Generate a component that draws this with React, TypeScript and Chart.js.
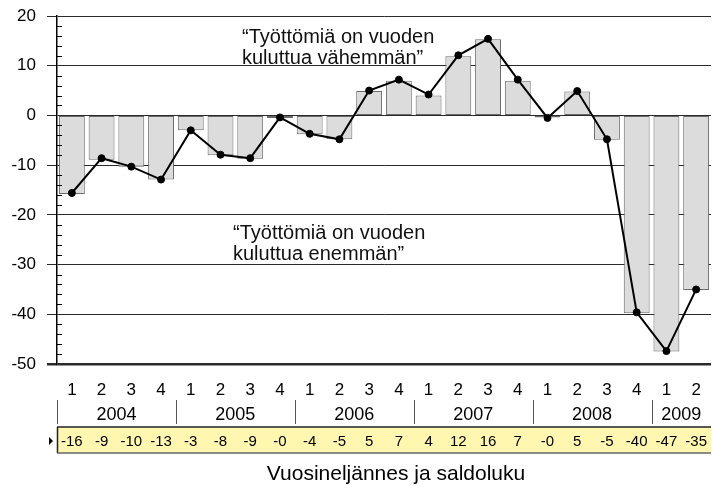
import React, { useEffect, useRef } from "react";
import { Chart, registerables } from "chart.js";

Chart.register(...registerables);

const quarters = ["1", "2", "3", "4", "1", "2", "3", "4", "1", "2", "3", "4", "1", "2", "3", "4", "1", "2", "3", "4", "1", "2"];
const categories = quarters.map((q, i) => `${2004 + Math.floor(i / 4)} Q${q}`);
const years = ["2004", "2005", "2006", "2007", "2008", "2009"];
const yearSpans = [4, 4, 4, 4, 4, 2];
const barValues = [-15.8, -8.9, -10.3, -12.9, -3.0, -8.0, -8.7, -0.5, -3.8, -4.8, 4.9, 7.0, 4.0, 11.9, 15.3, 7.0, -0.4, 4.8, -4.9, -39.8, -47.5, -35.1];
const lineValues = [-15.6, -8.6, -10.3, -12.9, -3.0, -7.9, -8.6, -0.4, -3.7, -4.8, 5.0, 7.2, 4.2, 12.1, 15.4, 7.2, -0.5, 4.9, -4.8, -39.6, -47.4, -35.0];
const tableLabels = ["-16", "-9", "-10", "-13", "-3", "-8", "-9", "-0", "-4", "-5", "5", "7", "4", "12", "16", "7", "-0", "5", "-5", "-40", "-47", "-35"];
const yMin = -50;
const yMax = 20;
const yStep = 10;
const annotationTop = ["\u201cTyöttömiä on vuoden", "kuluttua vähemmän\u201d"];
const annotationBottom = ["\u201cTyöttömiä on vuoden", "kuluttua enemmän\u201d"];
const axisTitle = "Vuosineljännes ja saldoluku";

const FONT = "'Liberation Sans', Arial, Helvetica, sans-serif";

const extrasPlugin = {
  id: "extras",
  afterDraw(chart: any) {
    const ctx = chart.ctx as CanvasRenderingContext2D;
    const x = chart.scales.x;
    const y = chart.scales.y;
    const area = chart.chartArea;
    const half = (x.getPixelForValue(1) - x.getPixelForValue(0)) / 2;
    ctx.save();

    // minor ticks on y axis
    ctx.strokeStyle = "#000";
    ctx.lineWidth = 1;
    for (let v = yMin; v <= yMax; v += 2) {
      if (v % yStep === 0) continue;
      const py = Math.round(y.getPixelForValue(v)) + 0.5;
      ctx.beginPath();
      ctx.moveTo(area.left, py);
      ctx.lineTo(area.left + 5, py);
      ctx.stroke();
    }

    // annotations
    ctx.fillStyle = "#111";
    ctx.font = `20px ${FONT}`;
    ctx.textAlign = "left";
    ctx.textBaseline = "alphabetic";
    annotationTop.forEach((t, i) => {
      ctx.fillText(t, area.left + 185, y.getPixelForValue(14.5) + i * 21);
    });
    annotationBottom.forEach((t, i) => {
      ctx.fillText(t, area.left + 176, y.getPixelForValue(-24.8) + i * 21.5);
    });

    // quarter labels
    ctx.fillStyle = "#000";
    ctx.textAlign = "center";
    ctx.font = `17px ${FONT}`;
    quarters.forEach((q, i) => {
      ctx.fillText(q, x.getPixelForValue(i), 395);
    });

    // years and separators
    ctx.font = `18px ${FONT}`;
    let idx = 0;
    years.forEach((yr, k) => {
      const start = x.getPixelForValue(idx) - half;
      const end = x.getPixelForValue(idx + yearSpans[k] - 1) + half;
      ctx.strokeStyle = "#555";
      ctx.lineWidth = 1;
      const sx = Math.round(start) + 0.5;
      ctx.beginPath();
      ctx.moveTo(sx, 400);
      ctx.lineTo(sx, 424);
      ctx.stroke();
      ctx.fillStyle = "#000";
      ctx.fillText(yr, (start + end) / 2, 420);
      idx += yearSpans[k];
    });

    // data table band
    const top = 427;
    const bottom = 453;
    ctx.fillStyle = "#fff6b0";
    ctx.fillRect(area.left, top, area.right - area.left, bottom - top);
    ctx.strokeStyle = "#222";
    ctx.lineWidth = 1.5;
    ctx.beginPath();
    ctx.moveTo(area.left, top);
    ctx.lineTo(area.right, top);
    ctx.moveTo(area.left + 0.5, top);
    ctx.lineTo(area.left + 0.5, bottom);
    ctx.stroke();
    ctx.strokeStyle = "#666";
    ctx.lineWidth = 1.5;
    ctx.beginPath();
    ctx.moveTo(area.left, bottom);
    ctx.lineTo(area.right, bottom);
    ctx.stroke();

    ctx.fillStyle = "#000";
    ctx.font = `15px ${FONT}`;
    tableLabels.forEach((t, i) => {
      ctx.fillText(t, x.getPixelForValue(i), 446);
    });

    // row marker
    ctx.beginPath();
    ctx.moveTo(49, 437);
    ctx.lineTo(53, 441);
    ctx.lineTo(49, 445);
    ctx.closePath();
    ctx.fill();

    // axis title
    ctx.font = `21px ${FONT}`;
    ctx.fillText(axisTitle, (area.left + area.right) / 2 + 12, 480);

    ctx.restore();
  },
};

export default function App() {
  const ref = useRef<HTMLCanvasElement | null>(null);

  useEffect(() => {
    if (!ref.current) return;
    const chart = new Chart(ref.current, {
      type: "bar",
      data: {
        labels: categories,
        datasets: [
          {
            type: "line",
            data: lineValues,
            borderColor: "#000",
            borderWidth: 2,
            pointRadius: 3.5,
            pointBackgroundColor: "#000",
            pointBorderColor: "#000",
            pointBorderWidth: 1,
            tension: 0,
            order: 1,
          } as any,
          {
            type: "bar",
            data: barValues,
            backgroundColor: "#dcdcdc",
            borderColor: "#6a6a6a",
            borderWidth: 1,
            borderSkipped: false,
            barPercentage: 0.87,
            categoryPercentage: 1,
            order: 2,
          },
        ],
      },
      options: {
        responsive: false,
        animation: false,
        devicePixelRatio: 1,
        layout: { padding: { top: 16, bottom: 122, left: 0, right: 0 } },
        plugins: {
          legend: { display: false },
          tooltip: { enabled: false },
        },
        scales: {
          x: {
            display: false,
            offset: true,
          },
          y: {
            min: yMin,
            max: yMax,
            afterFit(scale: any) {
              scale.width = 57;
              scale.paddingTop = 0;
              scale.paddingBottom = 0;
            },
            ticks: {
              stepSize: yStep,
              padding: 11,
              color: "#000",
              font: { family: FONT, size: 17 },
            },
            grid: {
              color: "#2a2a2a",
              lineWidth: (c: any) => (c.tick && c.tick.value === yMin ? 2.5 : 1),
              tickLength: 10,
              drawTicks: true,
            },
            border: { display: true, color: "#000", width: 1.5 },
          },
        },
      },
      plugins: [extrasPlugin],
    });
    return () => chart.destroy();
  }, []);

  return (
    <div
      style={{
        position: "fixed",
        left: 0,
        top: 0,
        width: 712,
        height: 486,
        overflow: "hidden",
        background: "#fff",
      }}
    >
      <canvas ref={ref} width={716} height={486} style={{ display: "block" }} />
    </div>
  );
}
